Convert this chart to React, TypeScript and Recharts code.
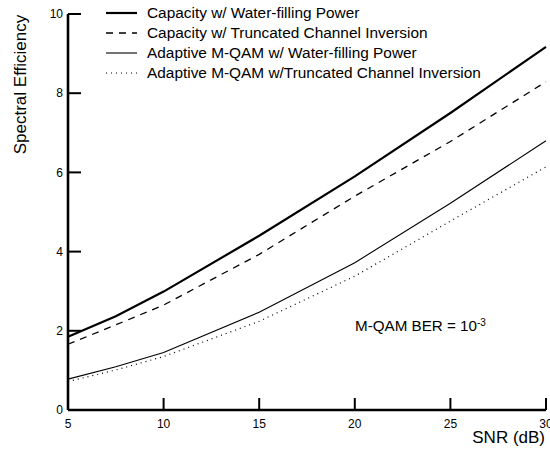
import React from 'react';
import { LineChart, Line, XAxis, YAxis } from 'recharts';

const snr = [5, 7.5, 10, 15, 20, 25, 30];
const capWF = [1.85, 2.37, 2.99, 4.4, 5.9, 7.5, 9.17];
const capTCI = [1.66, 2.15, 2.65, 3.93, 5.4, 6.78, 8.29];
const mqamWF = [0.78, 1.09, 1.45, 2.47, 3.72, 5.22, 6.8];
const mqamTCI = [0.72, 1.01, 1.35, 2.24, 3.38, 4.77, 6.14];

const xTicks = [5, 10, 15, 20, 25, 30];
const yTicks = [0, 2, 4, 6, 8, 10];

const seriesNames = [
  'Capacity w/ Water-filling Power',
  'Capacity w/ Truncated Channel Inversion',
  'Adaptive M-QAM w/ Water-filling Power',
  'Adaptive M-QAM w/Truncated Channel Inversion',
];

const data = snr.map((s, i) => ({
  snr: s,
  capWF: capWF[i],
  capTCI: capTCI[i],
  mqamWF: mqamWF[i],
  mqamTCI: mqamTCI[i],
}));

const FONT = '"Liberation Sans", Arial, Helvetica, sans-serif';

const styles = [
  { width: 2.2, dash: undefined as string | undefined },
  { width: 1.3, dash: '7 6' },
  { width: 1.1, dash: undefined as string | undefined },
  { width: 1.2, dash: '1 4' },
];

const Overlay = () => {
  const rows = [13, 33, 53, 73];
  return (
    <svg
      width={550}
      height={453}
      style={{ position: 'absolute', left: 0, top: 0, pointerEvents: 'none' }}
    >
      {seriesNames.map((name, i) => (
        <g key={name}>
          <line
            x1={106}
            x2={137}
            y1={rows[i]}
            y2={rows[i]}
            stroke="#000"
            strokeWidth={styles[i].width}
            strokeDasharray={styles[i].dash}
          />
          <text x={147} y={rows[i] + 5} fontSize={15.4} fontFamily={FONT} fill="#000">
            {name}
          </text>
        </g>
      ))}
      <text
        x={26}
        y={84.5}
        transform="rotate(-90, 26, 84.5)"
        textAnchor="middle"
        fontSize={17}
        fontFamily={FONT}
        fill="#000"
      >
        Spectral Efficiency
      </text>
      <text x={545} y={443} textAnchor="end" fontSize={17} fontFamily={FONT} fill="#000">
        SNR (dB)
      </text>
      <text x={355} y={331} fontSize={15.2} fontFamily={FONT} fill="#000">
        M-QAM BER = 10
        <tspan fontSize={10} dy={-5}>-3</tspan>
      </text>
    </svg>
  );
};

export default function App() {
  return (
    <div style={{ position: 'absolute', left: 0, top: 0, width: 550, height: 453, background: '#fff' }}>
      <LineChart
        width={550}
        height={453}
        data={data}
        margin={{ top: 14, right: 4, bottom: 0, left: 0 }}
        style={{ fontFamily: FONT, fontSize: 12 }}
      >
        <XAxis
          dataKey="snr"
          type="number"
          domain={[5, 30]}
          ticks={xTicks}
          interval={0}
          height={43}
          stroke="#000"
          tickSize={-12}
          tickMargin={21}
          tickLine={{ stroke: '#000', strokeWidth: 2 }}
          axisLine={{ stroke: '#000', strokeWidth: 2.6 }}
        />
        <YAxis
          type="number"
          domain={[0, 10]}
          ticks={yTicks}
          interval={0}
          width={68}
          stroke="#000"
          tickSize={-13}
          tickMargin={18}
          tickLine={{ stroke: '#000', strokeWidth: 2 }}
          axisLine={{ stroke: '#000', strokeWidth: 2.6 }}
        />
        <Line type="linear" dataKey="capWF" stroke="#000" strokeWidth={styles[0].width} dot={false} isAnimationActive={false} />
        <Line type="linear" dataKey="capTCI" stroke="#000" strokeWidth={styles[1].width} strokeDasharray={styles[1].dash} dot={false} isAnimationActive={false} />
        <Line type="linear" dataKey="mqamWF" stroke="#000" strokeWidth={styles[2].width} dot={false} isAnimationActive={false} />
        <Line type="linear" dataKey="mqamTCI" stroke="#000" strokeWidth={styles[3].width} strokeDasharray={styles[3].dash} dot={false} isAnimationActive={false} />
      </LineChart>
      <Overlay />
    </div>
  );
}
